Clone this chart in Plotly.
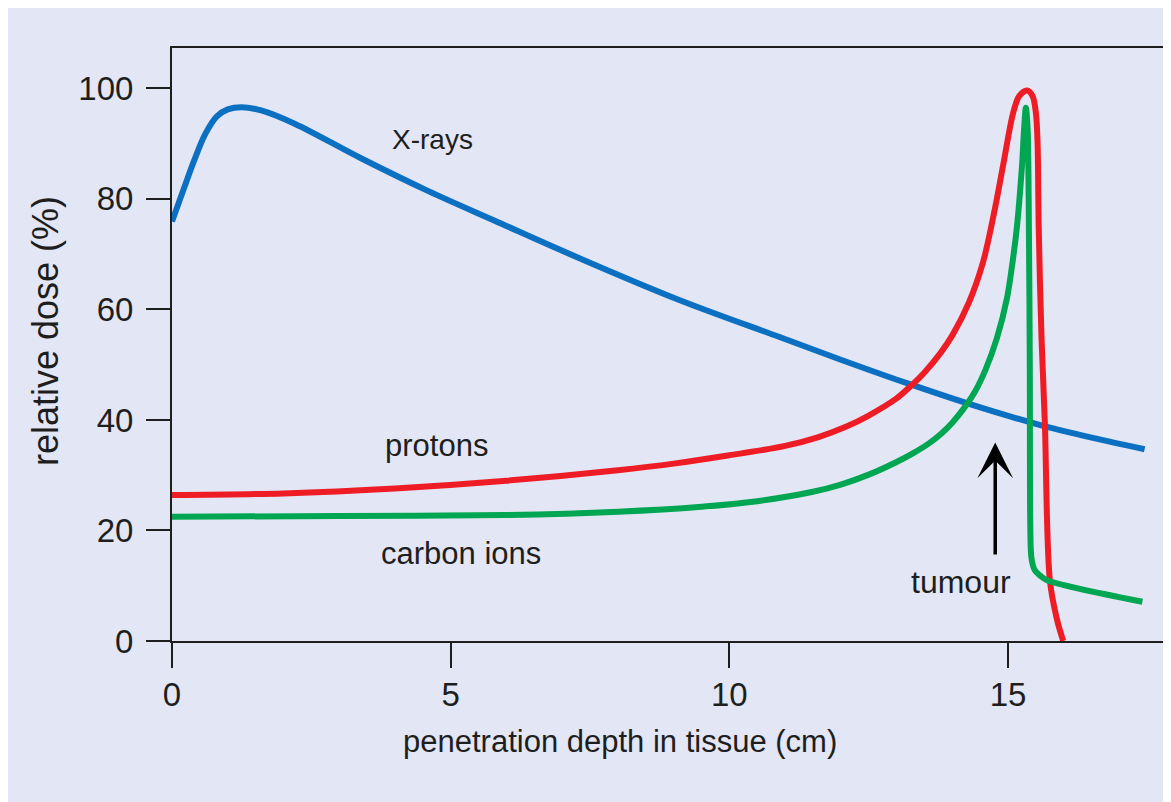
import plotly.graph_objects as go

# ---- data ----
xray_depth = [0, 0.2, 0.4, 0.6, 0.8, 1.0, 1.25, 1.6, 2.2, 3.4, 4.6, 5.8, 7.3, 9.1, 10.9, 12.0, 13.2, 14.3,
              15.5, 16.5, 17.45]
xray_dose = [75.9, 81.5, 87.0, 91.8, 94.9, 96.2, 96.6, 96.0, 93.6, 87.3, 81.4, 76.0, 69.3, 61.7, 55.0, 50.9,
             46.6, 42.9, 39.3, 36.8, 34.7]

proton_depth = [0, 2, 4, 6, 8, 9, 10, 11, 11.6, 12.1, 12.5, 13.0, 13.24, 13.5, 13.78, 14.0, 14.3, 14.55,
                14.75, 14.91, 15.09, 15.2, 15.34, 15.44, 15.5, 15.53, 15.55, 15.6, 15.66, 15.75, 15.88, 15.99]
proton_dose = [26.4, 26.7, 27.6, 29.0, 30.9, 32.1, 33.6, 35.3, 36.9, 38.8, 40.8, 43.9, 46.0, 48.6, 52.0, 55.3,
               61.3, 68.5, 77.5, 86.0, 95.5, 98.6, 99.6, 98.6, 95.5, 90.0, 75.0, 55.0, 39.5, 11.0, 3.8, 0.0]

carbon_depth = [0, 3, 6, 8, 9.5, 10.5, 11.5, 12.0, 12.5, 13.0, 13.3, 13.6, 13.8, 14.0, 14.2, 14.4, 14.6, 14.8,
                14.98, 15.1, 15.16, 15.25, 15.29, 15.32, 15.35, 15.37, 15.39, 15.4, 15.42, 15.48, 15.58, 15.7,
                17.41]
carbon_dose = [22.5, 22.6, 22.8, 23.4, 24.3, 25.3, 27.0, 28.3, 30.1, 32.4, 34.0, 35.9, 37.5, 39.5, 42.0, 45.0,
               49.2, 54.8, 62.0, 70.0, 75.0, 86.0, 93.0, 96.5, 93.0, 80.0, 50.0, 20.0, 15.0, 12.8, 11.8, 11.0,
               7.1]

x_ticks = [0, 5, 10, 15]
y_ticks = [0, 20, 40, 60, 80, 100]

series_labels = ["X-rays", "protons", "carbon ions"]
label_pos_x = [4.67, 4.74, 5.19]
label_pos_y = [90.8, 35.3, 15.9]
label_sizes = [28, 31, 31]

BG = "#e3e6f4"
INK = "#1e1e1e"
FONT = "Liberation Sans, Arial, sans-serif"

fig = go.Figure()
fig.add_trace(go.Scatter(x=xray_depth, y=xray_dose, mode="lines", name="X-rays",
                         line=dict(color="#0b6fc2", width=6, shape="spline", smoothing=1.0)))
fig.add_trace(go.Scatter(x=proton_depth, y=proton_dose, mode="lines", name="protons",
                         line=dict(color="#ee1d25", width=6, shape="spline", smoothing=0.9)))
fig.add_trace(go.Scatter(x=carbon_depth, y=carbon_dose, mode="lines", name="carbon ions",
                         line=dict(color="#00a651", width=6, shape="spline", smoothing=0.9)))

annotations = []
for t, lx, ly, fs in zip(series_labels, label_pos_x, label_pos_y, label_sizes):
    annotations.append(dict(x=lx, y=ly, xref="x", yref="y", text=t, showarrow=False,
                            font=dict(size=fs, color=INK, family=FONT)))
annotations.append(dict(x=14.16, y=10.7, xref="x", yref="y", text="tumour", showarrow=False,
                        font=dict(size=32, color=INK, family=FONT)))
annotations.append(dict(x=14.77, y=35.9, xref="x", yref="y", ax=14.77, ay=15.4, axref="x", ayref="y",
                        text="", showarrow=True, arrowhead=3, arrowsize=1.7, arrowwidth=3.5,
                        arrowcolor="#000000"))
annotations.append(dict(x=(620 - 172) / 991, y=(641 - 742) / 593, xref="paper", yref="paper",
                        text="penetration depth in tissue (cm)", showarrow=False,
                        xanchor="center", yanchor="middle",
                        font=dict(size=31, color=INK, family=FONT)))
annotations.append(dict(x=(45 - 172) / 991, y=(641 - 331) / 593, xref="paper", yref="paper",
                        text="relative dose (%)", showarrow=False, textangle=-90,
                        xanchor="center", yanchor="middle",
                        font=dict(size=36, color=INK, family=FONT)))

fig.update_layout(
    width=1171, height=802,
    margin=dict(l=164, r=16, t=40, b=169),
    paper_bgcolor=BG, plot_bgcolor=BG,
    showlegend=False,
    font=dict(family=FONT, color=INK),
    annotations=annotations,
    xaxis=dict(range=[0, 17.78], tickvals=x_ticks, ticks="outside", ticklen=25, tickwidth=2,
               tickcolor=INK, showline=True, linecolor=INK, linewidth=2, mirror=True,
               showgrid=False, zeroline=False, tickfont=dict(size=33, color=INK, family=FONT),
               ticklabelstandoff=-2),
    yaxis=dict(range=[0, 107.3], tickvals=y_ticks, ticks="outside", ticklen=24, tickwidth=2,
               tickcolor=INK, showline=True, linecolor=INK, linewidth=2, mirror=True,
               showgrid=False, zeroline=False, tickfont=dict(size=33, color=INK, family=FONT),
               ticklabelstandoff=6),
)

fig.write_html("out.html")
